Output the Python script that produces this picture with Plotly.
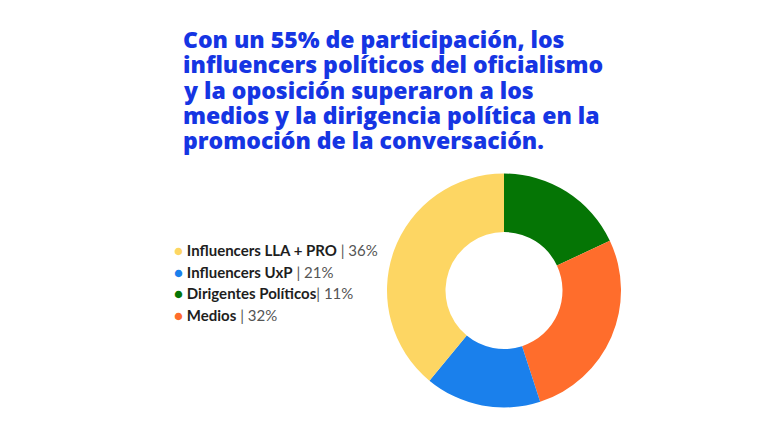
import plotly.graph_objects as go

# ---- data ----
categories = ["Influencers LLA + PRO", "Influencers UxP", "Dirigentes Políticos", "Medios"]
legend_pct = [36, 21, 11, 32]
slice_values = [39, 16, 18, 27]          # as drawn in the picture
colors = ["#fdd663", "#1a80ec", "#057505", "#ff6d2c"]
pie_order = [2, 3, 1, 0]                  # clockwise from 12 o'clock
title_lines = [
    "Con un 55% de participación, los",
    "influencers políticos del oficialismo",
    "y la oposición superaron a los",
    "medios y la dirigencia política en la",
    "promoción de la conversación.",
]

W, H = 768, 432
fig = go.Figure()

fig.add_trace(go.Pie(
    labels=[categories[i] for i in pie_order],
    values=[slice_values[i] for i in pie_order],
    marker=dict(colors=[colors[i] for i in pie_order], line=dict(width=0)),
    hole=0.5, sort=False, direction="clockwise", rotation=0,
    textinfo="none", hoverinfo="label+percent", showlegend=False,
    domain=dict(x=[387 / W, 621 / W], y=[1 - 407.5 / H, 1 - 173.5 / H]),
))

ann = []
for k, line in enumerate(title_lines):
    ann.append(dict(
        text=line, x=181 / W, y=1 - (39 + 25.3 * k) / H, xref="paper", yref="paper",
        xanchor="left", yanchor="middle", showarrow=False,
        font=dict(family="Open Sans", size=23, color="#1535e3", weight=800),
    ))

for k, (cat, pct, col) in enumerate(zip(categories, legend_pct, colors)):
    gap = "" if cat == "Dirigentes Políticos" else " "
    txt = (f"<span style='color:{col}'>●</span> "
           f"<b>{cat}</b>{gap}<span style='color:#555555'>| {pct}%</span>")
    ann.append(dict(
        text=txt, x=172 / W, y=1 - (250 + 21.5 * k) / H, xref="paper", yref="paper",
        xanchor="left", yanchor="middle", showarrow=False,
        font=dict(family="Lato", size=15, color="#1e1e1e"),
    ))

fig.update_layout(
    width=W, height=H, margin=dict(l=0, r=0, t=0, b=0),
    paper_bgcolor="white", plot_bgcolor="white",
    annotations=ann, showlegend=False,
)
fig.write_html("out.html")
